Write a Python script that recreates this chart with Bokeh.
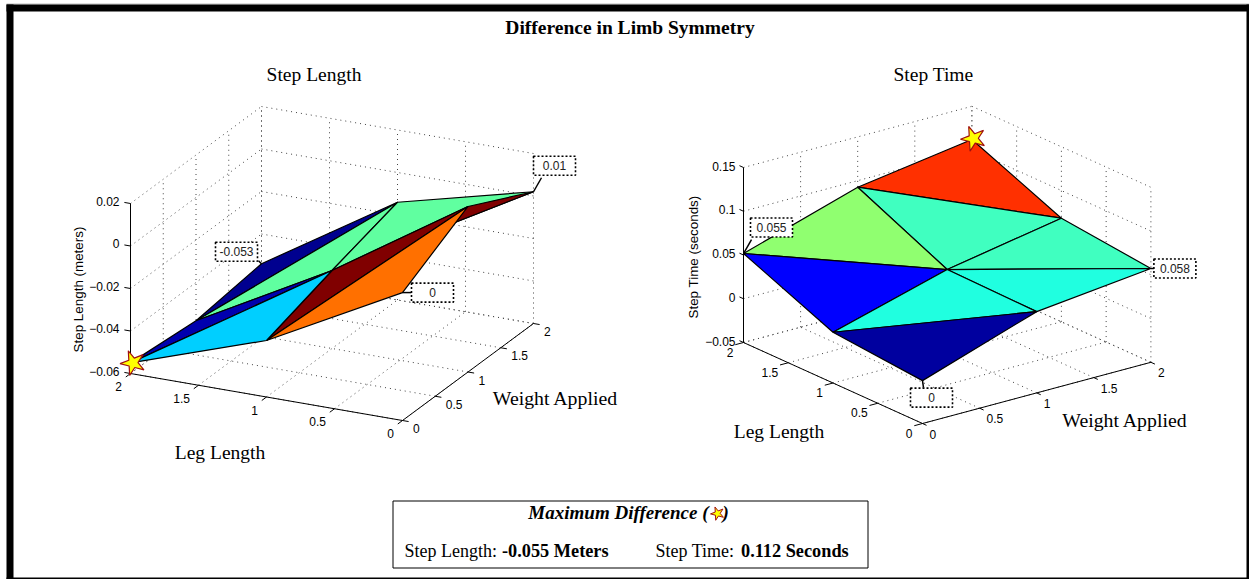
from math import pi
from bokeh.plotting import figure
from bokeh.models import Range1d
from bokeh.core.properties import value
from bokeh.embed import file_html
from bokeh.resources import INLINE

# ---- data ----
figure_title = "Difference in Limb Symmetry"
axis_ticks = [0, 0.5, 1, 1.5, 2]
axis_tick_labels = ["0", "0.5", "1", "1.5", "2"]

# rows: leg length 0, 1, 2 ; columns: weight applied 0, 1, 2
grid_values = [0, 1, 2]
step_length_z = [
    [0.0002, 0.0179, 0.0020],
    [-0.0334, -0.0233, -0.0140],
    [-0.0550, -0.0580, -0.0540],
]
step_time_z = [
    [-0.0010, 0.0429, 0.0572],
    [0.0080, 0.0447, 0.0684],
    [0.0517, 0.0925, 0.1120],
]
step_length_zticks = [-0.06, -0.04, -0.02, 0, 0.02]
step_length_zlabels = ["\u22120.06", "\u22120.04", "\u22120.02", "0", "0.02"]
step_time_zticks = [-0.05, 0, 0.05, 0.1, 0.15]
step_time_zlabels = ["\u22120.05", "0", "0.05", "0.1", "0.15"]

# triangles as (leg, weight) grid nodes, back to front, with their colours
step_length_faces = [
    ((2, 2), (1, 2), (2, 1)), ((2, 1), (1, 1), (1, 2)), ((1, 2), (1, 1), (0, 2)),
    ((0, 2), (0, 1), (1, 1)), ((1, 1), (0, 1), (1, 0)),
    ((1, 0), (0, 1), (0, 0)), ((2, 0), (2, 1), (1, 1)), ((2, 0), (1, 1), (1, 0)),
]
step_length_colors = ["#00008f", "#60ffa0", "#60ffa0", "#800000",
                      "#800000", "#ff7000", "#0000af", "#00cfff"]
step_time_faces = [
    ((2, 2), (1, 2), (2, 1)), ((2, 1), (1, 1), (1, 2)), ((1, 1), (1, 2), (0, 2)),
    ((1, 1), (0, 2), (0, 1)), ((2, 0), (2, 1), (1, 1)), ((2, 0), (1, 1), (1, 0)),
    ((1, 0), (1, 1), (0, 1)), ((1, 0), (0, 1), (0, 0)),
]
step_time_colors = ["#ff3000", "#40ffc0", "#40ffc0", "#20ffe0", "#90ff70",
                    "#0000ff", "#20ffe0", "#00009f"]

# (leg, weight, text)
step_length_tips = [(2, 2, "-0.053"), (0, 2, "0.01"), (0, 0, "0")]
step_time_tips = [(2, 0, "0.055"), (0, 2, "0.058"), (0, 0, "0")]

SANS = value("Liberation Sans")
SERIF = value("Liberation Serif")

p = figure(width=1249, height=579, x_range=Range1d(0, 1249), y_range=Range1d(579, 0),
           x_axis_type=None, y_axis_type=None, toolbar_location=None,
           output_backend="svg", min_border=0, outline_line_color=None,
           background_fill_color="white", border_fill_color="white")
p.grid.visible = False


def txt(x, y, s, size=12, font=SANS, align="center", style="normal", angle=0, color="#000000"):
    p.text([x], [y], text=[s], text_font=font, text_font_size=f"{size}px",
           text_align=align, text_baseline="middle", text_font_style=style,
           angle=angle, text_color=color)


# frame
p.quad(left=[6], right=[1249], top=[3], bottom=[4], fill_color="#bbbbbb", line_color=None)
for l, r, t, b in [(6, 13, 4, 579), (1246, 1249, 4, 579), (6, 1249, 4, 11), (6, 1249, 577, 579)]:
    p.quad(left=[l], right=[r], top=[t], bottom=[b], fill_color="black", line_color=None)


def chart(o, leg_v, wgt_v, z_scale, zvals, zticks, zlabels, faces, colors, tips, tip_off,
          z_lab_off, leg_lab_off, wgt_lab_off, z_title, z_title_pos, leg_title_pos, wgt_title_pos,
          title, title_pos, star_node, star_off):
    zmin, zmax = zticks[0], zticks[-1]

    def proj(leg, wgt, z):
        return (o[0] + (2 - leg) * leg_v[0] + wgt * wgt_v[0],
                o[1] + (2 - leg) * leg_v[1] + wgt * wgt_v[1] - (z - zmin) * z_scale)

    def seg(a, b, color="black", dash="solid", width=1.0):
        pa, pb = proj(*a), proj(*b)
        p.line([pa[0], pb[0]], [pa[1], pb[1]], line_color=color, line_dash=dash, line_width=width)

    # grid on the floor and the two back walls
    gs = dict(color="#444444", dash="1 4", width=1.0)
    for z in zticks:
        seg((2, 0, z), (2, 2, z), **gs)
        seg((2, 2, z), (0, 2, z), **gs)
    for t in axis_ticks:
        seg((t, 0, zmin), (t, 2, zmin), **gs)
        seg((t, 2, zmin), (t, 2, zmax), **gs)
        seg((0, t, zmin), (2, t, zmin), **gs)
        seg((2, t, zmin), (2, t, zmax), **gs)

    # axes and ticks
    seg((2, 0, zmin), (2, 0, zmax))
    seg((2, 0, zmin), (0, 0, zmin))
    seg((0, 0, zmin), (0, 2, zmin))
    tick = 0.045
    for z, s in zip(zticks, zlabels):
        seg((2, 0, z), (2 + tick, 0, z))
        x, y = proj(2, 0, z)
        txt(x + z_lab_off[0], y + z_lab_off[1], s, align="right")
    for t, s in zip(axis_ticks, axis_tick_labels):
        seg((t, 0, zmin), (t, -tick * 1.6, zmin))
        x, y = proj(t, 0, zmin)
        txt(x + leg_lab_off[0], y + leg_lab_off[1], s, align="right")
        seg((0, t, zmin), (-tick, t, zmin))
        x, y = proj(0, t, zmin)
        txt(x + wgt_lab_off[0], y + wgt_lab_off[1], s, align="left")

    # surface
    xs, ys = [], []
    for tri in faces:
        pts = [proj(grid_values[a], grid_values[b], zvals[a][b]) for a, b in tri]
        xs.append([q[0] for q in pts])
        ys.append([q[1] for q in pts])
    p.patches(xs, ys, fill_color=colors, line_color="black", line_width=1.2)

    # data tips
    for (leg, wgt, s), (dx, dy, lx, ly) in zip(tips, tip_off):
        x, y = proj(leg, wgt, zvals[leg][wgt])
        p.line([x, x + lx], [y, y + ly], line_color="black", line_width=1.5)
        p.quad(left=[x + dx - 21], right=[x + dx + 21], top=[y + dy - 9.5], bottom=[y + dy + 9.5],
               fill_color="white", line_color="black", line_width=1.6, line_dash="2 2")
        txt(x + dx, y + dy, s, color="#222222")

    # star on the largest difference
    x, y = proj(star_node[0], star_node[1], zvals[star_node[0]][star_node[1]])
    p.scatter([x + star_off[0]], [y + star_off[1]], marker="star", size=26, fill_color="#ffff00",
              line_color="#a01010", line_width=1.2, angle=0.37)

    # titles
    txt(*title_pos, title, size=19.5, font=SERIF)
    txt(*leg_title_pos, "Leg Length", size=19.5, font=SERIF)
    txt(*wgt_title_pos, "Weight Applied", size=19.8, font=SERIF)
    txt(*z_title_pos, z_title, size=13.4, angle=pi / 2)


txt(629.5, 27, figure_title, size=19.5, font=SERIF, style="bold")

chart((130, 373), (136, 23.5), (65.5, -48.5), 2125, step_length_z, step_length_zticks, step_length_zlabels,
      step_length_faces, step_length_colors, step_length_tips,
      [(-25, -12, -3, -3), (21, -26, 8, -14), (30, 0, 9, 0)],
      (-11, -2.5), (-8.5, 13), (10.5, 8),
      "Step Length (meters)", (78, 289), (219.5, 452), (555, 397),
      "Step Length", (313.5, 74), (2, 0), (2.5, 0))

chart((743, 342), (89.5, 40.5), (114.2, -30.6), 875, step_time_z, step_time_zticks, step_time_zlabels,
      step_time_faces, step_time_colors, step_time_tips,
      [(28, -26, 8, -14), (24, 0, 5, 0), (9, 17, 1, 7)],
      (-8, -1.5), (-10, 9.5), (7, 10.5),
      "Step Time (seconds)", (693, 256.5), (778.5, 431), (1124.5, 419),
      "Step Time", (933, 74), (2, 2), (1.5, -1))

# summary box
p.quad(left=[392.5], right=[867.5], top=[500.5], bottom=[567.5], fill_color="white", line_color="black", line_width=1)
p.text([708], [512], text=["Maximum Difference ("], text_font=SERIF, text_font_size="19px",
       text_align="right", text_baseline="middle", text_font_style="bold italic")
p.text([722], [512], text=[")"], text_font=SERIF, text_font_size="19px",
       text_align="left", text_baseline="middle", text_font_style="bold italic")
p.scatter([717], [513], marker="star", size=14, fill_color="#ffff00", line_color="#a01010", line_width=1, angle=0.37)
txt(404, 550, "Step Length:", size=18, font=SERIF, align="left")
txt(501.5, 550, "-0.055 Meters", size=18.3, font=SERIF, align="left", style="bold")
txt(655, 550, "Step Time:", size=18, font=SERIF, align="left")
txt(740.5, 550, "0.112 Seconds", size=18.3, font=SERIF, align="left", style="bold")

open("out.html", "w").write(file_html(p, INLINE))
